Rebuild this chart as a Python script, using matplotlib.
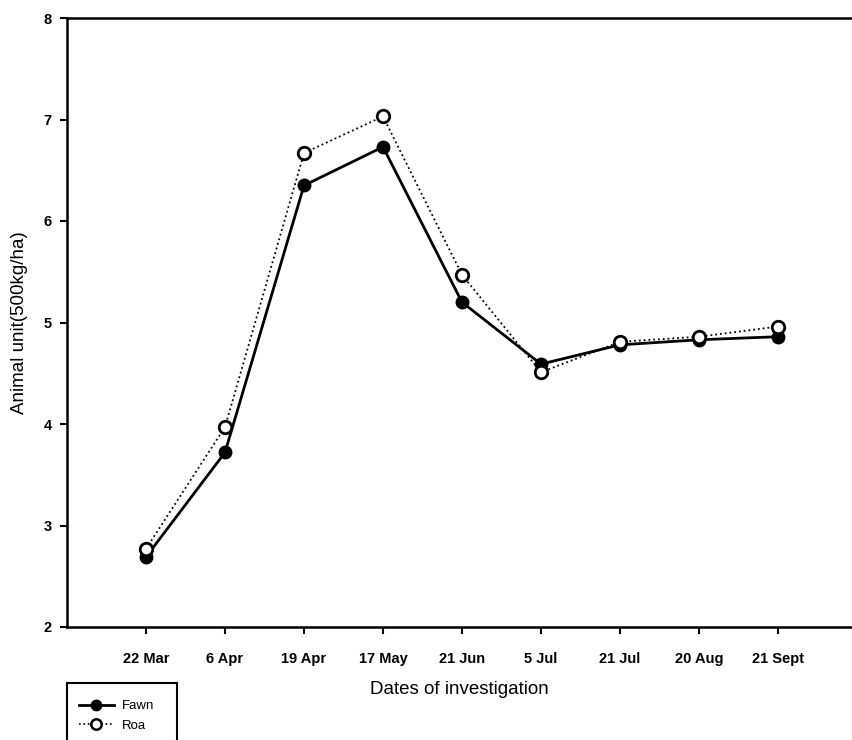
import numpy as np
import matplotlib.pyplot as plt
from matplotlib.patches import Rectangle
from matplotlib.lines import Line2D

plt.rcParams['font.family'] = ['Liberation Sans', 'DejaVu Sans']

dates = ['22 Mar', '6 Apr', '19 Apr', '17 May', '21 Jun', '5 Jul',
         '21 Jul', '20 Aug', '21 Sept']
fawn = [2.69, 3.72, 6.35, 6.73, 5.20, 4.59, 4.78, 4.83, 4.86]
roa = [2.77, 3.97, 6.67, 7.03, 5.47, 4.51, 4.81, 4.86, 4.96]
yticks = [2, 3, 4, 5, 6, 7, 8]

W, H = 852, 740
fig = plt.figure(figsize=(W / 100, H / 100), dpi=100)
ax = fig.add_axes([67 / W, 1 - 627 / H, 1 - 67 / W, (627 - 18) / H])

x = np.arange(1, len(dates) + 1)
ax.plot(x, fawn, '-', color='black', lw=2.0, marker='o', ms=9,
        mfc='black', mec='black', zorder=3)
ax.plot(x, roa, ':', color='black', lw=1.3, marker='o', ms=9,
        mfc='white', mec='black', mew=2.0, zorder=4)

ax.set_xlim(0, (W - 67) / 79)
ax.set_ylim(2, 8)
ax.set_xticks(x)
ax.set_xticklabels(dates, fontsize=10.5, fontweight='bold')
ax.set_yticks(yticks)
ax.set_yticklabels([str(v) for v in yticks], fontsize=10.5, fontweight='bold')
ax.tick_params(direction='out', length=5, width=1.5)
ax.tick_params(axis='x', pad=13)
ax.tick_params(axis='y', pad=6)
for s in ['left', 'bottom', 'top']:
    ax.spines[s].set_linewidth(1.8)
ax.spines['right'].set_visible(False)

ax.set_xlabel('Dates of investigation', fontsize=13.5, labelpad=11)
ax.set_ylabel('Animal unit(500kg/ha)', fontsize=13.5, labelpad=11)

# legend box, cut at the bottom edge like the scan
fig.add_artist(Rectangle((67 / W, 1 - 760 / H), 110 / W, 77 / H,
                         transform=fig.transFigure, fill=False,
                         lw=1.5, ec='black'))
handles = [Line2D([], [], color='black', lw=2.0, marker='o', ms=7.5,
                  mfc='black'),
           Line2D([], [], color='black', lw=1.2, ls=':', marker='o', ms=7.5,
                  mfc='white', mew=1.8)]
fig.legend(handles, ['Fawn', 'Roa'], loc='upper left',
           bbox_to_anchor=(70 / W, 1 - 691 / H), frameon=False,
           fontsize=9.5, handlelength=2.6, handletextpad=0.6,
           labelspacing=0.55, borderpad=0.2)

fig.savefig('out.png', dpi=100)
